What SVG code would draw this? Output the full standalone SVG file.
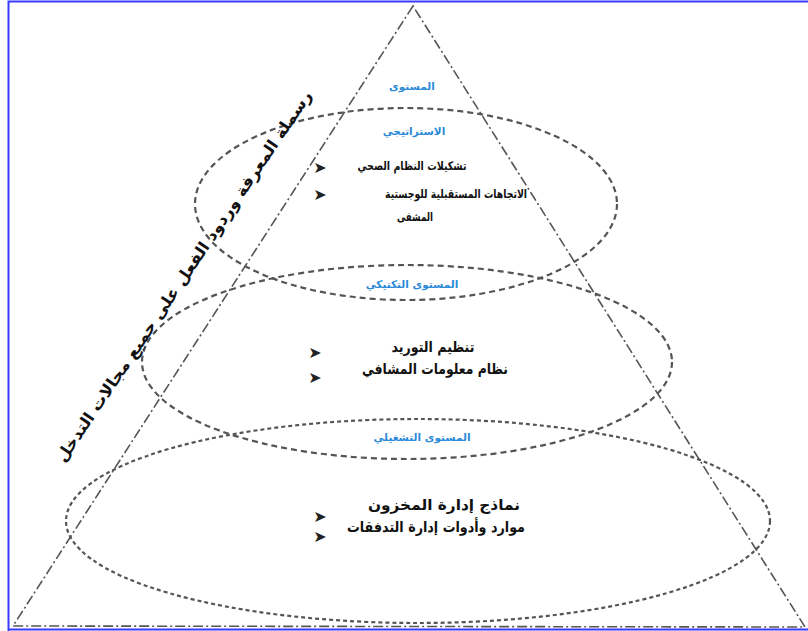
<svg xmlns="http://www.w3.org/2000/svg" width="808" height="631" viewBox="0 0 808 631">
<style>
.frame{stroke:#3a3aff;stroke-width:2;fill:none}
.tri{stroke:#555;stroke-width:1.6;fill:none;stroke-dasharray:10 3 2 3}
.ell{stroke:#555;stroke-width:2.2;fill:none;stroke-dasharray:6 4}
.lvl{font-family:"DejaVu Sans",sans-serif;font-weight:bold;font-size:10.5px;fill:#2b8ad8;text-anchor:middle}
.sm{font-family:"DejaVu Sans",sans-serif;font-weight:bold;font-size:12px;fill:#111;text-anchor:middle}
.md{font-family:"DejaVu Sans",sans-serif;font-weight:bold;font-size:15px;fill:#111;text-anchor:middle}
.bul{font-family:"DejaVu Sans",sans-serif;font-size:16px;fill:#222;text-anchor:middle}
.side{font-family:"DejaVu Sans",sans-serif;font-weight:bold;font-size:16px;fill:#111;text-anchor:middle}
</style>
<rect width="808" height="631" fill="#fff"/>
<g id="frame">
<path class="frame" d="M8.5 631 V1.5 H808 M8 629.5 H808"/>
</g>
<g id="connectors">
<path class="tri" d="M413 6 L13 626 L805 627 Z"/>
</g>
<g id="ellipse-strategic"><ellipse class="ell" cx="406" cy="204" rx="211" ry="96"/></g>
<g id="ellipse-tactical"><ellipse class="ell" cx="407" cy="362" rx="265" ry="97"/></g>
<g id="ellipse-operational"><ellipse class="ell" cx="418" cy="521" rx="352" ry="102" style="stroke-dasharray:4 3"/></g>
<g id="level-strategic">
<text class="lvl" x="412" y="90">المستوى</text>
<text class="lvl" x="414" y="135">الاستراتيجي</text>
<text class="bul" x="320" y="173">➤</text>
<text class="bul" x="320" y="200">➤</text>
<text class="sm" x="412" y="170" textLength="109" lengthAdjust="spacingAndGlyphs">تشكيلات النظام الصحي</text>
<text class="sm" x="456" y="198" textLength="142" lengthAdjust="spacingAndGlyphs">الاتجاهات المستقبلية للوجستية</text>
<text class="sm" x="415" y="221" textLength="36" lengthAdjust="spacingAndGlyphs">المشفى</text>
</g>
<g id="level-tactical">
<text class="lvl" x="412" y="288">المستوى التكتيكي</text>
<text class="bul" x="315" y="358">➤</text>
<text class="bul" x="315" y="383">➤</text>
<text class="md" x="433" y="352" textLength="83" lengthAdjust="spacingAndGlyphs">تنظيم التوريد</text>
<text class="md" x="435" y="374" textLength="146" lengthAdjust="spacingAndGlyphs">نظام معلومات المشافي</text>
</g>
<g id="level-operational">
<text class="lvl" x="422" y="441">المستوى التشغيلي</text>
<text class="bul" x="320" y="522">➤</text>
<text class="bul" x="320" y="542">➤</text>
<text class="md" x="444" y="510" textLength="152" lengthAdjust="spacingAndGlyphs">نماذج إدارة المخزون</text>
<text class="md" x="436" y="532" textLength="178" lengthAdjust="spacingAndGlyphs">موارد وأدوات إدارة التدفقات</text>
</g>
<g id="side-label">
<text class="side" transform="translate(185 277) rotate(-56)" y="4" textLength="444" lengthAdjust="spacingAndGlyphs">رسملة المعرفة وردود الفعل على جميع مجالات التدخل</text>
</g>
</svg>
